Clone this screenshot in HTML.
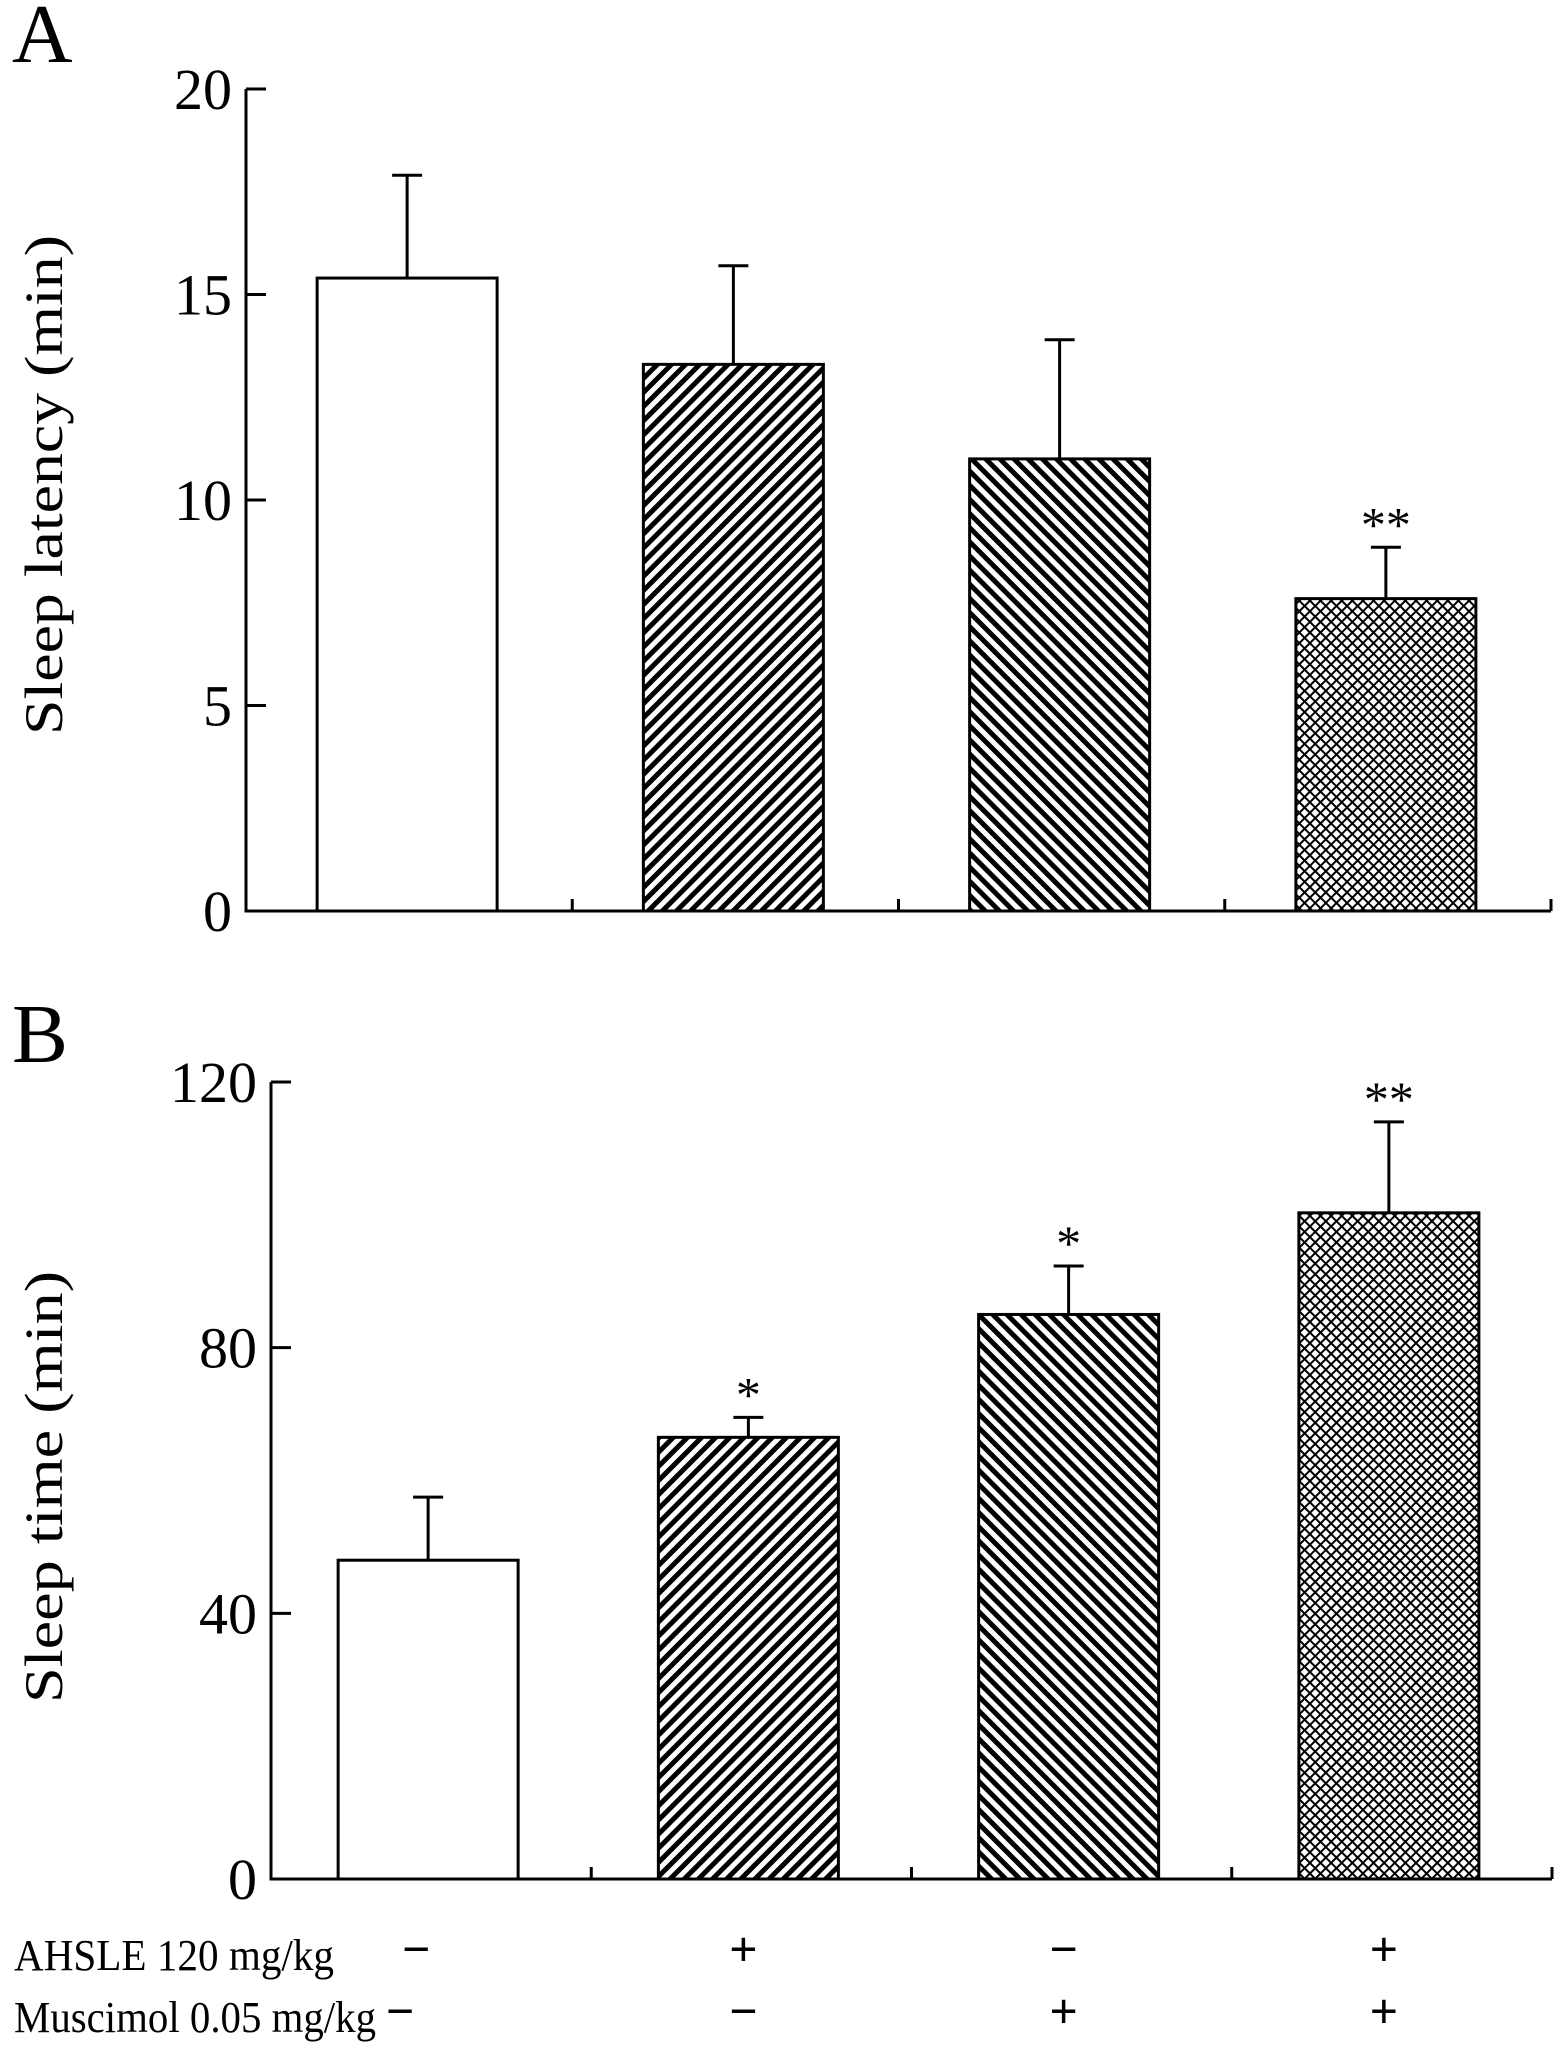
<!DOCTYPE html>
<html><head><meta charset="utf-8"><style>
html,body{margin:0;padding:0;background:#fff;}
svg{display:block;font-family:"Liberation Serif",serif;}
</style></head><body>
<svg id="chart" width="1559" height="2049" viewBox="0 0 1559 2049" xmlns="http://www.w3.org/2000/svg">
<defs>
<pattern id="hatchR" patternUnits="userSpaceOnUse" width="10" height="10" patternTransform="rotate(45)"><rect width="10" height="10" fill="#fff"/><rect width="5" height="10" fill="#000"/></pattern>
<pattern id="hatchL" patternUnits="userSpaceOnUse" width="10" height="10" patternTransform="rotate(-45)"><rect width="10" height="10" fill="#fff"/><rect width="5" height="10" fill="#000"/></pattern>
<pattern id="cross" patternUnits="userSpaceOnUse" width="7.5" height="7.5" patternTransform="rotate(45)"><rect width="7.5" height="7.5" fill="#fff"/><rect width="2" height="7.5" fill="#000"/><rect width="7.5" height="2" fill="#000"/></pattern>
</defs>
<g id="root"></g>
</svg>
<script>
const latencyValues=[15.4,13.3,11.0,7.6];
const latencyErrors=[2.5,2.4,2.9,1.25];
const latencyStars=["","","","**"];
const latencyTicks=[0,5,10,15,20];
const timeValues=[48,66.5,85,100.3];
const timeErrors=[9.5,3,7.3,13.7];
const timeStars=["","*","*","**"];
const timeTicks=[0,40,80,120];
const ahsleRow=["−","+","−","+"];
const muscimolRow=["−","−","+","+"];
const fills=["#fff","url(#hatchR)","url(#hatchL)","url(#cross)"];
const NS="http://www.w3.org/2000/svg";
const root=document.getElementById('root');
function mk(tag,attrs,parent){const e=document.createElementNS(NS,tag);for(const k in attrs)e.setAttribute(k,attrs[k]);(parent||root).appendChild(e);return e;}
function panel(cfg){
  const g=mk('g',{});
  
  
  const y=v=>cfg.y0-(v-0)/cfg.max*(cfg.y0-cfg.yTop);
  const slot=(cfg.xR-cfg.x0)/4;
  const ax=mk('path',{d:`M${cfg.x0} ${cfg.yTop} V${cfg.y0} H${cfg.xR}`,stroke:'#000','stroke-width':3,fill:'none'},g);
  
  
  cfg.ticks.forEach(t=>{
    const l=mk('line',{x1:cfg.x0,x2:cfg.x0+20,y1:y(t),y2:y(t),stroke:'#000','stroke-width':3},g);
    
    
    const tx=mk('text',{x:cfg.x0-14,y:y(t)+20,'font-size':58,'text-anchor':'end'},g);
    
    
    tx.textContent=t;
  });
  for(let i=1;i<=4;i++){
    const l=mk('line',{x1:cfg.x0+slot*i,x2:cfg.x0+slot*i,y1:cfg.y0,y2:cfg.y0-12,stroke:'#000','stroke-width':3},g);
    
    
  }
  cfg.values.forEach((v,i)=>{
    const cx=cfg.x0+slot*(i+0.5)+cfg.shift;
    const bw=180;
    const top=y(v+cfg.errors[i]);
    const eb=mk('path',{d:`M${cx} ${y(v)} V${top} M${cx-15} ${top} H${cx+15}`,stroke:'#000','stroke-width':3,fill:'none'},g);
    
    
    const r=mk('rect',{x:cx-bw/2,y:y(v),width:bw,height:cfg.y0-y(v),fill:fills[i],stroke:'#000','stroke-width':3},g);
    
    
    if(cfg.stars[i]){
      const s=mk('text',{x:cx,y:top-6,'font-size':50,'text-anchor':'middle'},g);
      
      
      s.textContent=cfg.stars[i];
    }
  });
  const tl=mk('text',{transform:`translate(${cfg.titleX},${cfg.titleY}) rotate(-90)`,'font-size':54,'text-anchor':'middle',textLength:cfg.titleLen,lengthAdjust:'spacingAndGlyphs'},g);
  
  
  tl.textContent=cfg.title;
  const lt=mk('text',{x:12,y:cfg.letterY,'font-size':84},g);
  
  
  lt.textContent=cfg.letter;
  return {slot,x0:cfg.x0,shift:cfg.shift};
}
panel({name:'panel-a-sleep-latency',x0:246,xR:1551,y0:911,yTop:89,max:20,ticks:latencyTicks,values:latencyValues,errors:latencyErrors,stars:latencyStars,shift:-2,title:'Sleep latency (min)',titleX:62,titleY:485,titleLen:500,letter:'A',letterY:62});
const pb=panel({name:'panel-b-sleep-time',x0:271,xR:1552,y0:1879,yTop:1082,max:120,ticks:timeTicks,values:timeValues,errors:timeErrors,stars:timeStars,shift:-3,title:'Sleep time (min)',titleX:62,titleY:1487,titleLen:432,letter:'B',letterY:1062});
function row(label,vals,yy,len,name,firstX){
  const t=mk('text',{x:14,y:yy,'font-size':44,textLength:len,lengthAdjust:'spacingAndGlyphs'});
  
  
  t.textContent=label;
  vals.forEach((v,i)=>{
    const x=(i==0&&firstX)?firstX:pb.x0+pb.slot*(i+0.5)+pb.shift-(i==0?12:5);
    const s=mk('text',{x:x,y:yy-4,'font-size':50,'font-weight':'bold','text-anchor':'middle'});
    
    
    s.textContent=v;
  });
}
row('AHSLE 120 mg/kg',ahsleRow,1970,320,'ahsle-row',0);
row('Muscimol 0.05 mg/kg',muscimolRow,2032,362,'muscimol-row',400);
</script>
</body></html>
